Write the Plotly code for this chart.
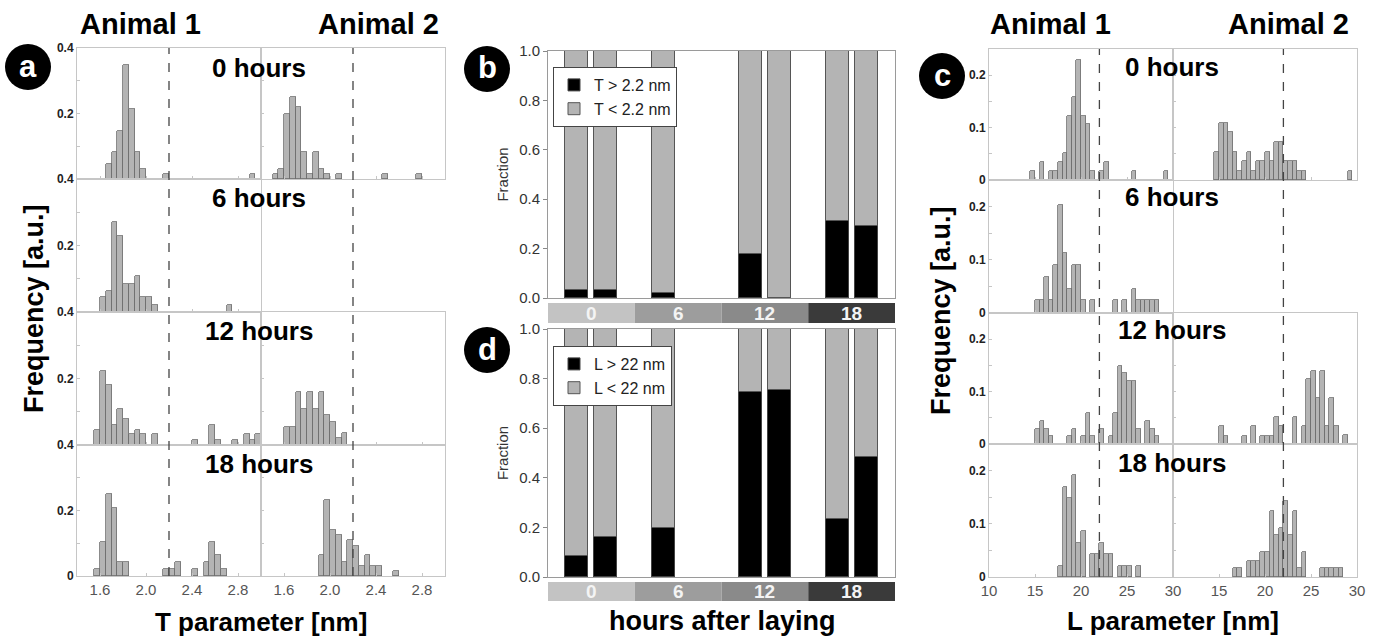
import plotly.graph_objects as go

# ---------------- data ----------------
# Panel a: T parameter histograms (bin left edges, bin width 0.05 nm)
T_BIN_WIDTH = 0.05
T0_A1_bin = [1.65, 1.70, 1.75, 1.80, 1.85, 1.90, 1.95, 2.15, 2.90]
T0_A1_f = [0.046, 0.081, 0.147, 0.347, 0.213, 0.081, 0.030, 0.014, 0.014]
T0_A2_bin = [1.50, 1.55, 1.60, 1.65, 1.70, 1.75, 1.80, 1.85, 1.90, 1.95, 2.05, 2.45, 2.75]
T0_A2_f = [0.014, 0.030, 0.200, 0.250, 0.220, 0.083, 0.014, 0.083, 0.030, 0.014, 0.014, 0.014, 0.014]
T6_A1_bin = [1.60, 1.65, 1.70, 1.75, 1.80, 1.85, 1.90, 1.95, 2.00, 2.05, 2.70]
T6_A1_f = [0.044, 0.064, 0.272, 0.230, 0.085, 0.085, 0.108, 0.044, 0.044, 0.022, 0.022]
T6_A2_bin = []
T6_A2_f = []
T12_A1_bin = [1.55, 1.60, 1.65, 1.70, 1.75, 1.80, 1.85, 1.90, 1.95, 2.05, 2.40, 2.55, 2.60, 2.75, 2.85, 2.90, 2.95]
T12_A1_f = [0.045, 0.223, 0.180, 0.060, 0.107, 0.077, 0.032, 0.045, 0.032, 0.032, 0.015, 0.060, 0.015, 0.015, 0.032, 0.015, 0.032]
T12_A2_bin = [1.60, 1.65, 1.70, 1.75, 1.80, 1.85, 1.90, 1.95, 2.00, 2.05, 2.10]
T12_A2_f = [0.053, 0.053, 0.160, 0.107, 0.160, 0.107, 0.160, 0.090, 0.070, 0.020, 0.037]
T18_A1_bin = [1.55, 1.60, 1.65, 1.70, 1.75, 1.80, 2.15, 2.20, 2.25, 2.40, 2.50, 2.55, 2.60, 2.65]
T18_A1_f = [0.021, 0.104, 0.250, 0.208, 0.042, 0.042, 0.021, 0.021, 0.042, 0.021, 0.042, 0.104, 0.063, 0.021]
T18_A2_bin = [1.90, 1.95, 2.00, 2.05, 2.10, 2.15, 2.20, 2.25, 2.30, 2.35, 2.40, 2.55]
T18_A2_f = [0.063, 0.232, 0.139, 0.124, 0.042, 0.109, 0.092, 0.031, 0.063, 0.031, 0.031, 0.016]

# Panel c: L parameter histograms (bin left edges, bin width 0.5 nm)
L_BIN_WIDTH = 0.5
L0_A1_bin = [14.5, 15.5, 16.5, 17.0, 17.5, 18.0, 18.5, 19.0, 19.5, 20.0, 20.5, 21.0, 22.0, 22.5, 25.5, 29.0]
L0_A1_f = [0.017, 0.035, 0.017, 0.017, 0.035, 0.052, 0.123, 0.158, 0.229, 0.123, 0.106, 0.017, 0.017, 0.035, 0.017, 0.017]
L0_A2_bin = [14.5, 15.0, 15.5, 16.0, 16.5, 17.0, 17.5, 18.0, 18.5, 19.0, 19.5, 20.0, 20.5, 21.0, 21.5, 22.0, 22.5, 23.0, 23.5, 24.0, 29.0]
L0_A2_f = [0.054, 0.108, 0.108, 0.092, 0.054, 0.017, 0.036, 0.054, 0.017, 0.036, 0.036, 0.054, 0.036, 0.072, 0.072, 0.036, 0.036, 0.036, 0.017, 0.017, 0.017]
L6_A1_bin = [15.0, 15.5, 16.0, 16.5, 17.0, 17.5, 18.0, 18.5, 19.0, 19.5, 20.0, 21.0, 23.5, 24.5, 25.5, 26.0, 26.5, 27.0, 27.5, 28.0]
L6_A1_f = [0.024, 0.024, 0.068, 0.024, 0.090, 0.203, 0.113, 0.046, 0.090, 0.090, 0.024, 0.024, 0.024, 0.024, 0.046, 0.024, 0.024, 0.024, 0.024, 0.024]
L6_A2_bin = []
L6_A2_f = []
L12_A1_bin = [15.0, 15.5, 16.0, 16.5, 18.5, 19.0, 20.0, 20.5, 21.0, 22.0, 23.0, 23.5, 24.0, 24.5, 25.0, 25.5, 26.0, 27.0, 27.5, 28.0]
L12_A1_f = [0.029, 0.044, 0.029, 0.015, 0.015, 0.029, 0.015, 0.059, 0.015, 0.029, 0.015, 0.059, 0.149, 0.135, 0.120, 0.120, 0.029, 0.044, 0.029, 0.015]
L12_A2_bin = [15.0, 15.5, 17.5, 18.5, 19.5, 20.0, 20.5, 21.0, 21.5, 23.0, 24.0, 24.5, 25.0, 25.5, 26.0, 26.5, 27.0, 27.5, 28.5]
L12_A2_f = [0.035, 0.015, 0.015, 0.035, 0.015, 0.015, 0.015, 0.051, 0.035, 0.051, 0.035, 0.124, 0.140, 0.088, 0.140, 0.035, 0.088, 0.035, 0.018]
L18_A1_bin = [17.5, 18.0, 18.5, 19.0, 19.5, 20.0, 21.0, 21.5, 22.0, 22.5, 23.0, 24.0, 24.5, 25.0, 26.0]
L18_A1_f = [0.021, 0.170, 0.148, 0.191, 0.064, 0.086, 0.043, 0.043, 0.064, 0.043, 0.043, 0.021, 0.021, 0.021, 0.021]
L18_A2_bin = [16.5, 17.0, 18.0, 18.5, 19.0, 19.5, 20.0, 20.5, 21.0, 21.5, 22.0, 22.5, 23.0, 23.5, 24.0, 26.0, 26.5, 27.0, 27.5, 28.0]
L18_A2_f = [0.016, 0.016, 0.031, 0.031, 0.031, 0.047, 0.047, 0.125, 0.079, 0.093, 0.142, 0.079, 0.125, 0.016, 0.047, 0.016, 0.016, 0.016, 0.016, 0.016]

HOUR_TITLES = ["0 hours", "6 hours", "12 hours", "18 hours"]
T_THRESHOLD = 2.2
L_THRESHOLD = 22

# Panels b, d: fractions above threshold, per hour group (None = no data)
HOURS = ["0", "6", "12", "18"]
T_ABOVE_A1 = [0.034, 0.020, 0.180, 0.313]
T_ABOVE_A2 = [0.034, None, 0.0, 0.290]
L_ABOVE_A1 = [0.086, 0.198, 0.747, 0.233]
L_ABOVE_A2 = [0.160, None, 0.754, 0.485]
STRIP_COLORS = ["#c3c3c3", "#9d9d9d", "#8a8a8a", "#3a3a3a"]

# ---------------- helpers ----------------
W, H = 1379, 639
FONT = "Liberation Sans"
BAR_FILL = "#b4b4b4"
BAR_EDGE = "#6e6e6e"
FRAME = "#c6c6c6"


def X(px):
    return px / W


def Y(py):
    return 1 - py / H


def refs(n):
    return ("x", "y") if n == 1 else (f"x{n}", f"y{n}")


fig = go.Figure()
layout_axes = {}
shapes = []
annotations = []
counter = [0]


def add_axes(xdom, ydom, xr, yr, xkw, ykw):
    counter[0] += 1
    n = counter[0]
    xr_, yr_ = refs(n)
    xa = dict(domain=[X(xdom[0]), X(xdom[1])], range=xr, anchor=yr_,
              showline=True, linecolor=FRAME, linewidth=1, mirror=True,
              showgrid=False, zeroline=False, ticks="inside", ticklen=3,
              tickcolor=FRAME, fixedrange=True, automargin=False)
    xa.update(xkw)
    ya = dict(domain=[Y(ydom[1]), Y(ydom[0])], range=yr, anchor=xr_,
              showline=True, linecolor=FRAME, linewidth=1, mirror=True,
              showgrid=False, zeroline=False, ticks="inside", ticklen=3,
              tickcolor=FRAME, fixedrange=True, automargin=False)
    ya.update(ykw)
    layout_axes["xaxis" if n == 1 else f"xaxis{n}"] = xa
    layout_axes["yaxis" if n == 1 else f"yaxis{n}"] = ya
    return n


def hist_panel(rows, halves_px, row_tops, row_bots, xr, yr, bw,
               xt_left, xt_right, ytv, ytt_fn, ytick_font, vline):
    first_ns = []
    for r, (b1, f1, b2, f2) in enumerate(rows):
        for h, (bins, freqs) in enumerate([(b1, f1), (b2, f2)]):
            last = r == len(rows) - 1
            xt = xt_left if h == 0 else xt_right
            xkw = dict(tickvals=xt, ticktext=[str(v) if isinstance(v, int) else f"{v:.1f}" for v in xt],
                       showticklabels=last,
                       tickfont=dict(family=FONT, size=15, color="#555"))
            ykw = dict(tickvals=ytv, ticktext=ytt_fn(r, last),
                       showticklabels=(h == 0),
                       tickfont=ytick_font)
            n = add_axes(halves_px[h], (row_tops[r], row_bots[r]), xr, yr, xkw, ykw)
            if r == 0:
                first_ns.append(n)
            xa, ya = refs(n)
            if bins:
                fig.add_trace(go.Bar(x=bins, y=freqs, width=bw, offset=0,
                                     xaxis=xa, yaxis=ya, showlegend=False,
                                     marker=dict(color=BAR_FILL, line=dict(color=BAR_EDGE, width=0.8)),
                                     hoverinfo="x+y"))
    for n in first_ns:
        xa, _ = refs(n)
        shapes.append(dict(type="line", xref=xa, yref="paper", x0=vline, x1=vline,
                           y0=Y(row_bots[-1]), y1=Y(row_tops[0]),
                           line=dict(color="#444", width=1.3, dash="dash"), layer="above"))


# ---------------- panel a ----------------
T_rows = [(T0_A1_bin, T0_A1_f, T0_A2_bin, T0_A2_f),
          (T6_A1_bin, T6_A1_f, T6_A2_bin, T6_A2_f),
          (T12_A1_bin, T12_A1_f, T12_A2_bin, T12_A2_f),
          (T18_A1_bin, T18_A1_f, T18_A2_bin, T18_A2_f)]
tick_font_bold = dict(family=FONT, size=12, color="#222", weight="bold")
hist_panel(T_rows, [(77, 261), (261, 445)], [48, 179, 312, 445], [179, 312, 445, 576],
           [1.4, 3.0], [0, 0.4], T_BIN_WIDTH,
           [1.6, 2.0, 2.4, 2.8], [1.6, 2.0, 2.4, 2.8],
           [0, 0.1, 0.2, 0.3, 0.4],
           lambda r, last: ["0" if last else "", "", "0.2", "", "0.4"],
           tick_font_bold, T_THRESHOLD)

# ---------------- panel c ----------------
L_rows = [(L0_A1_bin, L0_A1_f, L0_A2_bin, L0_A2_f),
          (L6_A1_bin, L6_A1_f, L6_A2_bin, L6_A2_f),
          (L12_A1_bin, L12_A1_f, L12_A2_bin, L12_A2_f),
          (L18_A1_bin, L18_A1_f, L18_A2_bin, L18_A2_f)]
hist_panel(L_rows, [(989, 1173), (1173, 1357)], [49, 180, 313, 444], [180, 313, 444, 577],
           [10, 30], [0, 0.25], L_BIN_WIDTH,
           [10, 15, 20, 25, 30], [15, 20, 25, 30],
           [0, 0.05, 0.1, 0.15, 0.2],
           lambda r, last: ["0", "", "0.1", "", "0.2"],
           tick_font_bold, L_THRESHOLD)

# ---------------- panels b, d ----------------
bar_offsets = [-1 / 6, 1 / 6]
bar_width = 0.265
group_idx = list(range(len(HOURS)))


def fraction_panel(ydom, above_a1, above_a2, label_hi, label_lo, legend_name, strip_px, legend_top):
    axis_font = dict(family=FONT, size=15, color="#333")
    n = add_axes((548, 895), ydom, [-0.5, len(HOURS) - 0.5], [0, 1.0],
                 dict(showticklabels=False, ticks="", linecolor="#9a9a9a"),
                 dict(tickvals=[0, 0.2, 0.4, 0.6, 0.8, 1.0], tickformat=".1f",
                      ticks="outside", ticklen=4, tickcolor="#888", linecolor="#9a9a9a",
                      tickfont=axis_font,
                      title=dict(text="Fraction", font=axis_font, standoff=6)))
    xa, ya = refs(n)
    for k, above in enumerate([above_a1, above_a2]):
        xs = [g + bar_offsets[k] for g in group_idx]
        below = [None if v is None else 1 - v for v in above]
        fig.add_trace(go.Bar(x=xs, y=above, width=bar_width, xaxis=xa, yaxis=ya,
                             name=label_hi, legend=legend_name, showlegend=(k == 0),
                             marker=dict(color="#000000", line=dict(color="#444", width=1))))
        fig.add_trace(go.Bar(x=xs, y=below, width=bar_width, xaxis=xa, yaxis=ya,
                             name=label_lo, legend=legend_name, showlegend=(k == 0),
                             marker=dict(color="#b4b4b4", line=dict(color="#555", width=1))))
    for g, hr in enumerate(HOURS):
        shapes.append(dict(type="rect", xref=xa, yref="paper", x0=g - 0.5, x1=g + 0.5,
                           y0=Y(strip_px[1]), y1=Y(strip_px[0]),
                           fillcolor=STRIP_COLORS[g], line=dict(width=0)))
        annotations.append(dict(xref=xa, yref="paper", x=g, y=Y((strip_px[0] + strip_px[1]) / 2),
                                text=hr, showarrow=False, yanchor="middle",
                                font=dict(family=FONT, size=19, color="#f4f4f4", weight="bold")))
    return dict(x=X(553), y=Y(legend_top), xanchor="left", yanchor="top",
                bordercolor="#444", borderwidth=1, bgcolor="white",
                font=dict(family=FONT, size=16, color="#222"),
                traceorder="normal", tracegroupgap=0, itemwidth=30)


legend_b = fraction_panel((51, 298), T_ABOVE_A1, T_ABOVE_A2,
                          "T > 2.2 nm", "T < 2.2 nm", "legend", (303, 323), 67)
legend_d = fraction_panel((329, 577), L_ABOVE_A1, L_ABOVE_A2,
                          "L > 22 nm", "L < 22 nm", "legend2", (582, 601), 346)


# ---------------- text ----------------
def txt(px, py, text, size, color="#000", bold=True, angle=0):
    annotations.append(dict(xref="paper", yref="paper", x=X(px), y=Y(py), text=text,
                            showarrow=False, textangle=angle, xanchor="center", yanchor="middle",
                            font=dict(family=FONT, size=size, color=color,
                                      weight="bold" if bold else "normal")))


txt(140, 24, "Animal 1", 29)
txt(378, 24, "Animal 2", 29)
txt(1050, 24, "Animal 1", 29)
txt(1288, 24, "Animal 2", 29)

for title, ya_, yc_ in zip(HOUR_TITLES, [68, 198, 331, 464], [67, 197, 330, 463]):
    txt(259, ya_, title, 26)
    txt(1172, yc_, title, 26)

txt(34, 309, "Frequency [a.u.]", 27, angle=-90)
txt(941, 311, "Frequency [a.u.]", 27, angle=-90)
txt(261, 622, "T parameter [nm]", 26)
txt(1173, 621, "L parameter [nm]", 26)
txt(722, 621, "hours after laying", 27)

# circled panel letters
for letter, cx, cy in [("a", 28, 67), ("b", 487, 69), ("d", 487, 350), ("c", 942, 76)]:
    r = 23
    shapes.append(dict(type="circle", xref="paper", yref="paper",
                       x0=X(cx - r), x1=X(cx + r), y0=Y(cy + r), y1=Y(cy - r),
                       fillcolor="#000", line=dict(color="#000", width=0)))
    txt(cx, cy - 1, letter, 31, color="#fff")

fig.update_layout(
    width=W, height=H, autosize=False,
    margin=dict(l=0, r=0, t=0, b=0, autoexpand=False),
    paper_bgcolor="white", plot_bgcolor="white",
    barmode="stack", bargap=0,
    showlegend=True,
    legend=legend_b, legend2=legend_d,
    shapes=shapes, annotations=annotations,
    font=dict(family=FONT),
    **layout_axes,
)

fig.write_html("out.html", config={"displayModeBar": False},
               post_script="document.body.style.margin='0px';document.body.style.overflow='hidden';")
